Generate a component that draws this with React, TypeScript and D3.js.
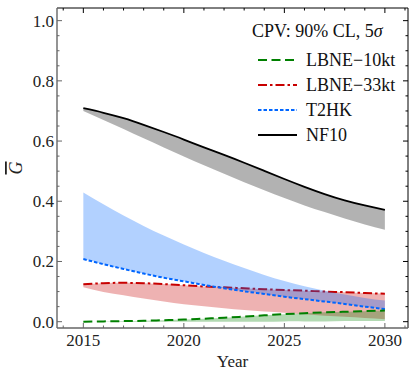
import React from "react";
import * as d3 from "d3";

// Years sampled for every curve
const years = [2015, 2016, 2017, 2018, 2019, 2020, 2021, 2022, 2023, 2024, 2025, 2026, 2027, 2028, 2029, 2030];

// LBNE-10kt: line (upper edge) and lower edge of its band
const lbne10Line = [0.0, 0.001, 0.002, 0.003, 0.005, 0.007, 0.01, 0.013, 0.017, 0.021, 0.025, 0.028, 0.031, 0.033, 0.035, 0.037];
const lbne10Low = [0.0, 0.0, 0.0, 0.0, 0.0, 0.0, 0.0, 0.0, 0.0, 0.0, 0.001, 0.001, 0.001, 0.002, 0.002, 0.002];

// LBNE-33kt
const lbne33Line = [0.124, 0.128, 0.129, 0.128, 0.125, 0.121, 0.117, 0.114, 0.111, 0.108, 0.105, 0.103, 0.1, 0.098, 0.095, 0.093];
const lbne33Low = [0.114, 0.099, 0.088, 0.077, 0.067, 0.058, 0.051, 0.045, 0.039, 0.034, 0.03, 0.025, 0.02, 0.016, 0.012, 0.008];

// T2HK: line (lower edge) and upper edge of its band
const t2hkLine = [0.208, 0.191, 0.175, 0.16, 0.146, 0.134, 0.122, 0.111, 0.101, 0.092, 0.083, 0.075, 0.067, 0.059, 0.05, 0.042];
const t2hkHigh = [0.429, 0.39, 0.353, 0.318, 0.286, 0.256, 0.228, 0.202, 0.178, 0.155, 0.135, 0.118, 0.103, 0.09, 0.079, 0.07];

// NF10: line (upper edge) and lower edge of its band
const nf10Line = [0.709, 0.694, 0.676, 0.654, 0.63, 0.605, 0.579, 0.554, 0.528, 0.501, 0.474, 0.448, 0.424, 0.403, 0.386, 0.371];
const nf10Low = [0.7, 0.67, 0.64, 0.609, 0.579, 0.549, 0.52, 0.491, 0.463, 0.437, 0.411, 0.386, 0.364, 0.343, 0.323, 0.305];

const xTickLabels = [2015, 2020, 2025, 2030];
const yTickLabels = [0.0, 0.2, 0.4, 0.6, 0.8, 1.0];

const legendTitle = "CPV: 90% CL, 5";
const seriesNames = ["LBNE\u221210kt", "LBNE\u221233kt", "T2HK", "NF10"];

const W = 411;
const H = 373;
const plot = { left: 57, right: 408, top: 8, bottom: 328 };
const FONT = "Liberation Serif, Times New Roman, Times, serif";

const x = d3.scaleLinear().domain([2013.69, 2031.15]).range([plot.left, plot.right]);
const y = d3.scaleLinear().domain([-0.021, 1.042]).range([plot.bottom, plot.top]);

type Series = {
  name: string;
  line: number[];
  other: number[];
  color: string;
  dash: string;
  width: number;
};

const series: Series[] = [
  { name: seriesNames[0], line: lbne10Line, other: lbne10Low, color: "#008000", dash: "9,4.5", width: 2 },
  { name: seriesNames[1], line: lbne33Line, other: lbne33Low, color: "#c80000", dash: "9,3,2.5,3", width: 2 },
  { name: seriesNames[2], line: t2hkLine, other: t2hkHigh, color: "#0066ff", dash: "3.5,2", width: 2 },
  { name: seriesNames[3], line: nf10Line, other: nf10Low, color: "#000000", dash: "", width: 1.8 },
];

// Drawing order so the overlaps stack the same way: 33kt, T2HK, 10kt, NF10
const drawOrder = [1, 2, 0, 3];

const lineGen = d3
  .line<number>()
  .x((_, i) => x(years[i]))
  .y((v) => y(v))
  .curve(d3.curveNatural);

function bandPath(a: number[], b: number[]) {
  const area = d3
    .area<number>()
    .x((_, i) => x(years[i]))
    .y0((_, i) => y(b[i]))
    .y1((v) => y(v))
    .curve(d3.curveNatural);
  return area(a) || "";
}

const textStyle: React.CSSProperties = { fontFamily: FONT };

export default function App() {
  const yMinor = d3.range(0, 1.0001, 0.05);
  const xMinor = d3.range(2014, 2031.5, 1);
  const axisColor = "#666";

  return (
    <svg width={W} height={H} style={{ position: "absolute", left: 0, top: 0, background: "#fff" }}>
      {/* bands and curves */}
      {drawOrder.map((k) => {
        const s = series[k];
        return (
          <g key={s.name}>
            <path d={bandPath(s.line, s.other)} fill={s.color} fillOpacity={0.3} stroke="none" />
            <path
              d={lineGen(s.line) || ""}
              fill="none"
              stroke={s.color}
              strokeWidth={s.width}
              strokeDasharray={s.dash || undefined}
            />
          </g>
        );
      })}

      {/* frame */}
      <line x1={plot.left} x2={plot.right} y1={plot.top} y2={plot.top} stroke="#000" strokeWidth={1} />
      <line x1={plot.right} x2={plot.right} y1={plot.top} y2={plot.bottom} stroke="#000" strokeWidth={1} />
      <line x1={plot.left} x2={plot.right} y1={plot.bottom} y2={plot.bottom} stroke={axisColor} strokeWidth={1.4} />
      <line x1={plot.left} x2={plot.left} y1={plot.top} y2={plot.bottom} stroke={axisColor} strokeWidth={1.4} />

      {/* y ticks, left and right */}
      {yMinor.map((v) => {
        const major = Math.abs(v * 5 - Math.round(v * 5)) < 1e-6;
        const len = major ? 5 : 2.5;
        return (
          <g key={"y" + v}>
            <line x1={plot.left} x2={plot.left + len} y1={y(v)} y2={y(v)} stroke={axisColor} strokeWidth={1} />
            <line x1={plot.right} x2={plot.right - len} y1={y(v)} y2={y(v)} stroke="#000" strokeWidth={1} />
          </g>
        );
      })}
      {/* x ticks, bottom and top */}
      {xMinor.map((v) => {
        const major = v % 5 === 0;
        const len = major ? 5 : 2.5;
        return (
          <g key={"x" + v}>
            <line x1={x(v)} x2={x(v)} y1={plot.bottom} y2={plot.bottom - len} stroke={axisColor} strokeWidth={1} />
            <line x1={x(v)} x2={x(v)} y1={plot.top} y2={plot.top + len} stroke="#000" strokeWidth={1} />
          </g>
        );
      })}

      {/* tick labels */}
      {yTickLabels.map((v) => (
        <text
          key={"yl" + v}
          x={plot.left - 3}
          y={y(v)}
          dy="0.35em"
          textAnchor="end"
          style={textStyle}
          fontSize={17}
          fill="#222"
        >
          {v.toFixed(1)}
        </text>
      ))}
      {xTickLabels.map((v) => (
        <text
          key={"xl" + v}
          x={x(v)}
          y={plot.bottom + 18}
          textAnchor="middle"
          style={textStyle}
          fontSize={17}
          fill="#222"
        >
          {v}
        </text>
      ))}

      {/* axis labels */}
      <text x={(plot.left + plot.right) / 2} y={367} textAnchor="middle" style={textStyle} fontSize={17} fill="#222">
        Year
      </text>
      <text
        transform={`translate(22,${(plot.top + plot.bottom) / 2}) rotate(-90)`}
        textAnchor="middle"
        style={textStyle}
        fontSize={18}
        fontStyle="italic"
        fill="#222"
        textDecoration="overline"
      >
        G
      </text>

      {/* legend */}
      <text x={252} y={37} style={textStyle} fontSize={18} fill="#111">
        {legendTitle}
        <tspan fontStyle="italic">σ</tspan>
      </text>
      {series.map((s, i) => {
        const ly = 60 + i * 25;
        return (
          <g key={"lg" + s.name}>
            <line
              x1={258}
              x2={297}
              y1={ly}
              y2={ly}
              stroke={s.color}
              strokeWidth={s.width}
              strokeDasharray={s.dash || undefined}
            />
            <text x={306} y={ly} dy="0.33em" style={textStyle} fontSize={18} fill="#111">
              {s.name}
            </text>
          </g>
        );
      })}
    </svg>
  );
}
